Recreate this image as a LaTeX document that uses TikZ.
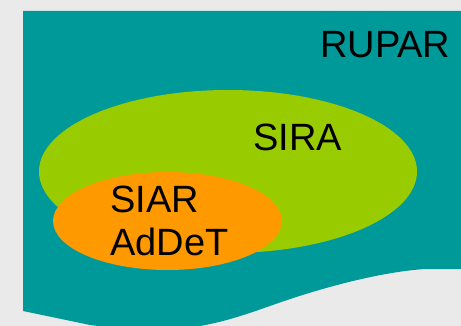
\documentclass[tikz,border=0pt]{standalone}
\usepackage{fontspec}
\setmainfont{Liberation Sans}
\usetikzlibrary{shapes.geometric}
\definecolor{bggray}{HTML}{EAEAEA}
\definecolor{rupar}{HTML}{009999}
\definecolor{sira}{HTML}{99CC00}
\definecolor{siar}{HTML}{FF9900}
\tikzset{
  label text/.style={font=\fontsize{38}{43}\selectfont, text=black, inner sep=0pt, anchor=base west, align=left},
  blob/.style={ellipse, inner sep=0pt}
}
\begin{document}
\begin{tikzpicture}[x=1pt,y=-1pt]
\useasboundingbox (0,0) rectangle (461,326);
\fill[bggray] (0,0) rectangle (461,326);
\fill[rupar] (23,11) -- (461,11) -- (461,269) -- (425,269)
  .. controls (380,272) and (320,288) .. (270,306)
  .. controls (230,320) and (200,330) .. (150,330)
  .. controls (120,330) and (100,326) .. (90,325)
  -- (23,311) -- cycle;
\node[blob, fill=sira, minimum width=378pt, minimum height=163pt] (sira) at (228,171.5) {};
\node[blob, fill=siar, minimum width=229pt, minimum height=98pt] (siar) at (167.5,221) {};
\node[label text] (ruparlabel) at (320,58) {RUPAR};
\node[label text] (siralabel) at (253,151) {SIRA};
\node[label text] (siarlabel) at (110,255) {SIAR\\AdDeT};
\end{tikzpicture}
\end{document}
